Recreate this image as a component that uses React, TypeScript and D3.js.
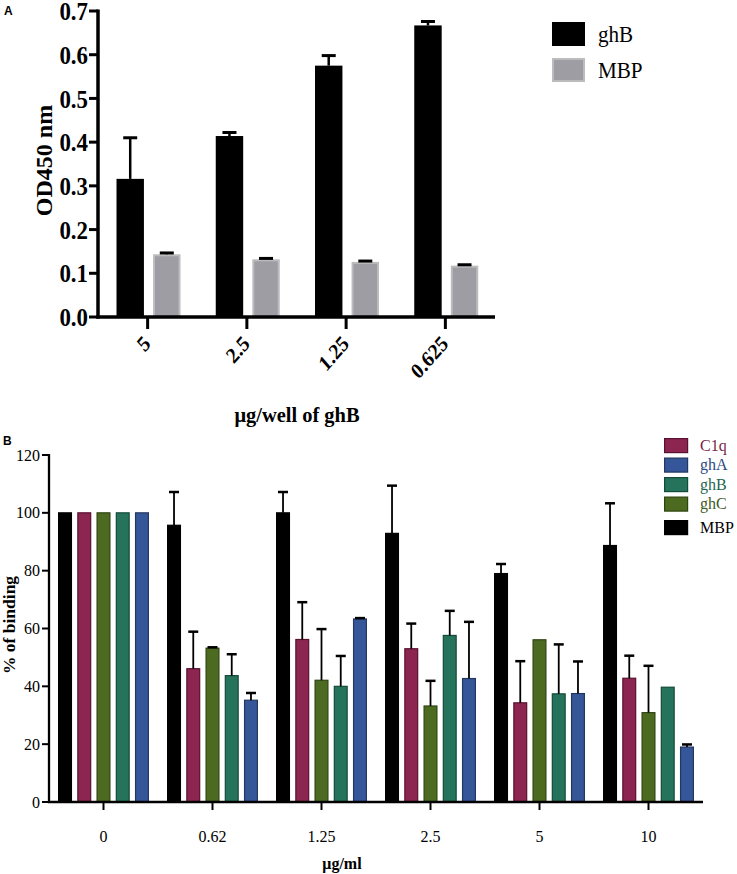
import React from "react";
import * as d3 from "d3";

// Panel A: OD450 for ghB vs MBP
const doseA = ["5", "2.5", "1.25", "0.625"];
const seriesA = ["ghB", "MBP"];
const ghBMean = [0.316, 0.414, 0.575, 0.667];
const ghBErr = [0.094, 0.008, 0.023, 0.009];
const mbpMeanA = [0.1435, 0.132, 0.126, 0.1175];
const mbpErrA = [0.003, 0.002, 0.002, 0.002];

// Panel B: % of binding
const concB = ["0", "0.62", "1.25", "2.5", "5", "10"];
const seriesB = ["MBP", "C1q", "ghC", "ghB", "ghA"];
const legendB = ["C1q", "ghA", "ghB", "ghC", "MBP"];
const meanB: Record<string, number[]> = {
  MBP: [100, 95.7, 100, 92.9, 79.0, 88.7],
  C1q: [100, 46.1, 56.2, 53.0, 34.3, 42.8],
  ghC: [100, 53.2, 42.1, 33.2, 56.1, 30.9],
  ghB: [100, 43.7, 40.0, 57.6, 37.4, 39.7],
  ghA: [100, 35.2, 63.3, 42.7, 37.5, 19.0],
};
const errB: Record<string, number[]> = {
  MBP: [0, 11.5, 7.2, 16.5, 3.3, 14.6],
  C1q: [0, 12.8, 12.9, 8.7, 14.4, 7.8],
  ghC: [0, 0.3, 17.7, 8.7, 0, 16.2],
  ghB: [0, 7.4, 10.5, 8.5, 17.1, 0],
  ghA: [0, 2.5, 0.3, 19.6, 11.1, 0.9],
};

const fillB: Record<string, string> = {
  MBP: "#000000",
  C1q: "#8c2650",
  ghC: "#4d6a21",
  ghB: "#24735a",
  ghA: "#35579a",
};
const edgeB: Record<string, string> = {
  MBP: "#000000",
  C1q: "#5a1030",
  ghC: "#2e4512",
  ghB: "#154a3a",
  ghA: "#23375f",
};
const textB: Record<string, string> = {
  MBP: "#000000",
  C1q: "#7a1f45",
  ghC: "#3f5a1c",
  ghB: "#1f6650",
  ghA: "#2c4a80",
};

const serif = { fontFamily: "Liberation Serif" };
const sans = { fontFamily: "Liberation Sans" };
const SX = 0.88; // panel A text looks a bit condensed

export default function App() {
  // ---- panel A scales
  const xA = d3.scaleBand().domain(doseA).range([98, 495]);
  const xAin = d3.scaleBand().domain(seriesA).range([18.5, 82.5]).paddingInner(0.25);
  const yA = d3.scaleLinear().domain([0, 0.7]).range([317, 11]);
  const fmtA = d3.format(".1f");

  // ---- panel B scales
  const xB = d3.scaleBand().domain(concB).range([49, 703]);
  const xBin = d3.scaleBand().domain(seriesB).range([9, 100]).paddingInner(0.27);
  const yB = d3.scaleLinear().domain([0, 120]).range([802, 455]);

  const barsA = doseA.flatMap((d, i) => [
    { dose: d, s: "ghB", v: ghBMean[i], e: ghBErr[i] },
    { dose: d, s: "MBP", v: mbpMeanA[i], e: mbpErrA[i] },
  ]);

  const barsB = concB.flatMap((c, i) =>
    seriesB.map((s) => ({ c, s, v: meanB[s][i], e: errB[s][i] }))
  );

  return (
    <svg
      width={737}
      height={874}
      style={{ position: "absolute", left: 0, top: 0, background: "#fff" }}
    >
      {/* ================= Panel A ================= */}
      <text x={4} y={15} style={sans} fontWeight="bold" fontSize={12}>
        A
      </text>

      {barsA.map((b, i) => {
        const x = xA(b.dose)! + xAin(b.s)!;
        const w = xAin.bandwidth();
        const cx = x + w / 2;
        const top = yA(b.v);
        const eTop = yA(b.v + b.e);
        return (
          <g key={i}>
            {b.s === "ghB" ? (
              <rect x={x} y={top} width={w} height={yA(0) - top} fill="#000" />
            ) : (
              <rect
                x={x + 1}
                y={top + 1}
                width={w - 2}
                height={yA(0) - top - 1}
                fill="#9e9da3"
                stroke="#bcbcbe"
                strokeWidth={2}
              />
            )}
            <line x1={cx} x2={cx} y1={top} y2={eTop} stroke="#000" strokeWidth={2.5} />
            <line x1={cx - 7} x2={cx + 7} y1={eTop} y2={eTop} stroke="#000" strokeWidth={3} />
          </g>
        );
      })}

      {/* y axis A */}
      <line x1={98} x2={98} y1={yA(0.7) - 1.5} y2={yA(0) + 1.5} stroke="#000" strokeWidth={3.5} />
      {yA.ticks(7).map((t) => (
        <g key={t}>
          <line x1={89} x2={98} y1={yA(t)} y2={yA(t)} stroke="#000" strokeWidth={3} />
          <text
            transform={`translate(88,${yA(t)}) scale(${SX},1)`}
            dy="0.35em"
            textAnchor="end"
            style={serif}
            fontWeight="bold"
            fontSize={26}
          >
            {fmtA(t)}
          </text>
        </g>
      ))}
      <text
        transform="translate(52,160.5) rotate(-90)"
        textAnchor="middle"
        style={serif}
        fontWeight="bold"
        fontSize={24}
      >
        OD450 nm
      </text>

      {/* x axis A */}
      <line x1={96.3} x2={495} y1={yA(0)} y2={yA(0)} stroke="#000" strokeWidth={3.5} />
      {doseA.map((d) => {
        const cx = xA(d)! + xA.bandwidth() / 2;
        return (
          <g key={d}>
            <line x1={cx} x2={cx} y1={yA(0)} y2={yA(0) + 12} stroke="#000" strokeWidth={3} />
            <text
              transform={`translate(${cx + 4},345) scale(${SX},1) rotate(-45)`}
              textAnchor="end"
              style={serif}
              fontWeight="bold"
              fontSize={22}
            >
              {d}
            </text>
          </g>
        );
      })}
      <text
        transform={`translate(297,421.5) scale(0.93,1)`}
        textAnchor="middle"
        style={serif}
        fontWeight="bold"
        fontSize={22}
      >
        μg/well of ghB
      </text>

      {/* legend A */}
      {seriesA.map((s, i) => (
        <g key={s} transform={`translate(552,${22 + i * 36})`}>
          {s === "ghB" ? (
            <rect width={33} height={24} fill="#000" />
          ) : (
            <rect x={1} y={1} width={31} height={22} fill="#9e9da3" stroke="#bcbcbe" strokeWidth={2} />
          )}
          <text transform={`translate(46,19.5) scale(${SX},1)`} style={serif} fontSize={24}>
            {s}
          </text>
        </g>
      ))}

      {/* ================= Panel B ================= */}
      <text x={3} y={445} style={sans} fontWeight="bold" fontSize={12}>
        B
      </text>

      {barsB.map((b, i) => {
        const x = xB(b.c)! + xBin(b.s)!;
        const w = xBin.bandwidth();
        const cx = x + w / 2;
        const top = yB(b.v);
        const eTop = yB(b.v + b.e);
        return (
          <g key={i}>
            <rect
              x={x + 0.6}
              y={top}
              width={w - 1.2}
              height={yB(0) - top}
              fill={fillB[b.s]}
              stroke={edgeB[b.s]}
              strokeWidth={1.2}
            />
            {b.e > 0 && (
              <>
                <line x1={cx} x2={cx} y1={top} y2={eTop} stroke="#000" strokeWidth={1.8} />
                <line x1={cx - 5} x2={cx + 5} y1={eTop} y2={eTop} stroke="#000" strokeWidth={2.5} />
              </>
            )}
          </g>
        );
      })}

      {/* y axis B */}
      <line x1={49} x2={49} y1={yB(120) - 1} y2={yB(0) + 1} stroke="#000" strokeWidth={2.3} />
      {yB.ticks(6).map((t) => (
        <g key={t}>
          <line x1={42} x2={49} y1={yB(t)} y2={yB(t)} stroke="#000" strokeWidth={2} />
          <text x={40} y={yB(t)} dy="0.35em" textAnchor="end" style={serif} fontSize={16}>
            {t}
          </text>
        </g>
      ))}
      <text
        transform="translate(14.5,625) rotate(-90)"
        textAnchor="middle"
        style={serif}
        fontWeight="bold"
        fontSize={17.5}
      >
        % of binding
      </text>

      {/* x axis B */}
      <line x1={48} x2={703} y1={yB(0)} y2={yB(0)} stroke="#000" strokeWidth={2.3} />
      {concB.map((c) => {
        const cx = xB(c)! + xB.bandwidth() / 2;
        return (
          <g key={c}>
            <line x1={cx} x2={cx} y1={yB(0)} y2={yB(0) + 8} stroke="#000" strokeWidth={2} />
            <text x={cx} y={842} textAnchor="middle" style={serif} fontSize={16}>
              {c}
            </text>
          </g>
        );
      })}
      <text x={342} y={869} textAnchor="middle" style={serif} fontWeight="bold" fontSize={16}>
        μg/ml
      </text>

      {/* legend B */}
      {legendB.map((s, i) => (
        <g key={s} transform={`translate(664,${438 + i * 19.5 + (s === "MBP" ? 4 : 0)})`}>
          <rect
            x={0.6}
            y={0.6}
            width={23}
            height={14}
            fill={fillB[s]}
            stroke={edgeB[s]}
            strokeWidth={1.2}
          />
          <text x={36} y={12.5} style={serif} fontSize={16} fill={textB[s]}>
            {s}
          </text>
        </g>
      ))}
    </svg>
  );
}
